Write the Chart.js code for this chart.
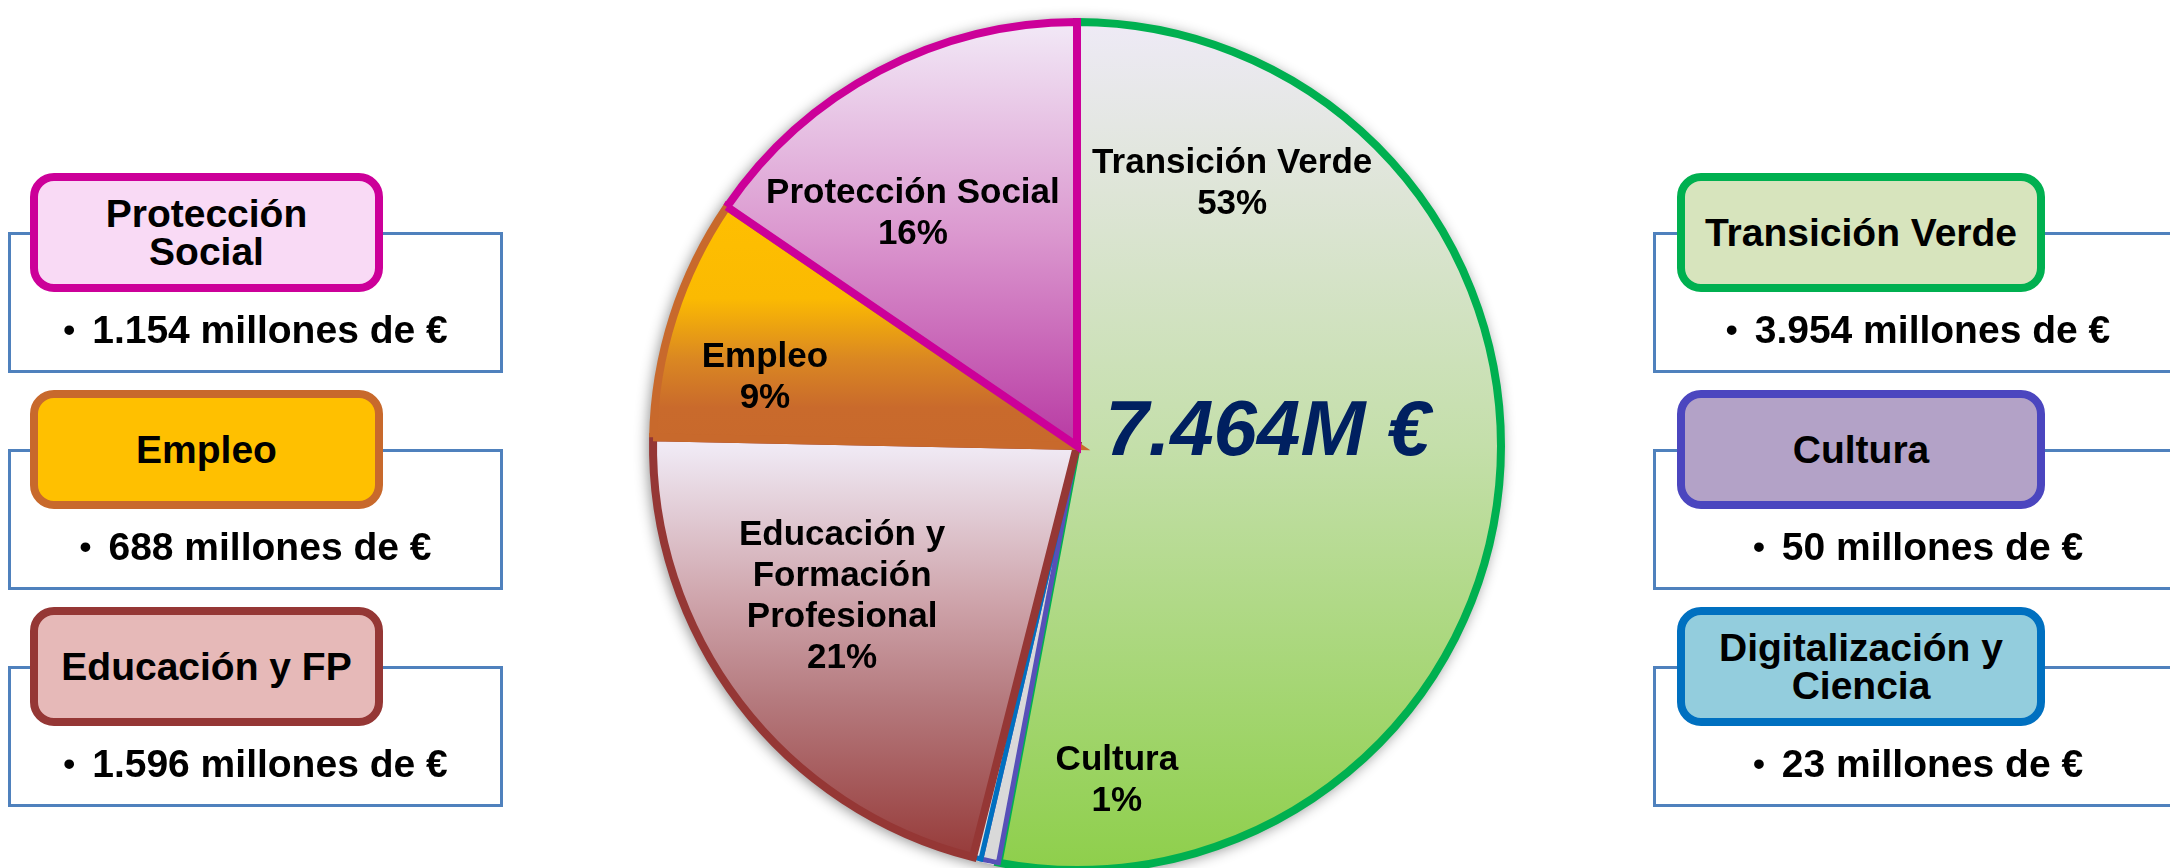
<!DOCTYPE html>
<html lang="es">
<head>
<meta charset="utf-8">
<title>Reparto por áreas</title>
<script src="https://cdn.jsdelivr.net/npm/chart.js@4.4.1/dist/chart.umd.min.js"></script>
<style>
  html, body { margin: 0; padding: 0; background: #fff; width: 2170px; height: 868px; overflow: hidden; font-family: "Liberation Sans", Arial, sans-serif; }
  #pie { position: absolute; left: 0; top: 0; }
  .frame { position: absolute; box-sizing: border-box; border: 3px solid #4F81BD; height: 141px; }
  .tag { position: absolute; box-sizing: border-box; height: 119px; border: 8px solid; border-radius: 24px;
         display: flex; align-items: center; justify-content: center; text-align: center;
         font-weight: bold; font-size: 39px; line-height: 38px; color: #000; white-space: pre-line; }
  .amount { position: absolute; display: flex; align-items: center; justify-content: center;
            font-weight: bold; font-size: 39px; color: #000; white-space: nowrap; }
  .amount .dot { margin-right: 17px; font-size: 34px; }
</style>
</head>
<body>
<canvas id="pie" width="2170" height="868"></canvas>
<div id="boxes"></div>
<script>
// data (millones de euros)
const categories = ['Transición Verde', 'Cultura', 'Digitalización y Ciencia', 'Educación y Formación Profesional', 'Empleo', 'Protección Social'];
const sliceValues = [3954, 50, 23, 1596, 688, 1154];
const slicePercents = ['53%', '1%', '', '21%', '9%', '16%'];
const pieLabels = ['Transición Verde', 'Cultura', '', 'Educación y\nFormación\nProfesional', 'Empleo', 'Protección Social'];
const boxTitles = ['Transición Verde', 'Cultura', 'Digitalización y\nCiencia', 'Educación y FP', 'Empleo', 'Protección\nSocial'];
const totalLabel = '7.464M €';

// styling
const borderColors = ['#00B050', '#5750B8', '#0070C0', '#953735', '#C8692C', '#CC0099'];
const boxFills = ['#D7E4BD', '#B3A2C7', '#93CDDD', '#E6B9B8', '#FFC000', '#F9DAF5'];
const boxBorders = ['#00B050', '#4B46BF', '#0070C0', '#953735', '#C8692C', '#CC0099'];
const flatFills = ['#C4DFAA', '#D9D9D9', '#E4E4E4', '#C89AA1', '#FFC000', '#D890CC'];
const gradientSpecs = [
  { from: -1, to: 1, stops: [[0, '#EEEAF6'], [0.2, '#DEE5D7'], [0.5, '#C4DFAA'], [1, '#8ECF4B']] },
  { from: -1, to: 1, stops: [[0, '#D9D9D9'], [1, '#D9D9D9']] },
  { from: -1, to: 1, stops: [[0, '#E4E4E4'], [1, '#E4E4E4']] },
  { from: 0, to: 1, stops: [[0, '#F0EAF5'], [0.36, '#CFA5AC'], [0.6, '#B57A7E'], [1, '#943634']] },
  { from: -0.6, to: 0, stops: [[0, '#FFC000'], [0.42, '#FBBA02'], [0.66, '#DA8722'], [0.85, '#C96A2C'], [1, '#C8692C']] },
  { from: -1, to: 0, stops: [[0, '#F2E9F7'], [0.5, '#DB98CF'], [1, '#B83AA3']] }
];
const PIE_RADIUS = 424;

function fmtMillions(v) {
  return String(v).replace(/\B(?=(\d{3})+(?!\d))/g, '.');
}

function sliceFill(context) {
  const chart = context.chart;
  const area = chart.chartArea;
  const i = context.dataIndex;
  if (!area) return flatFills[i];
  const cy = (area.top + area.bottom) / 2;
  const g = gradientSpecs[i];
  const grad = chart.ctx.createLinearGradient(0, cy + g.from * PIE_RADIUS, 0, cy + g.to * PIE_RADIUS);
  g.stops.forEach(([p, c]) => grad.addColorStop(p, c));
  return grad;
}

// soft shadow under the whole pie
const pieShadow = {
  id: 'pieShadow',
  beforeDatasetsDraw(chart) {
    const arc = chart.getDatasetMeta(0).data[0];
    if (!arc) return;
    const ctx = chart.ctx;
    ctx.save();
    ctx.beginPath();
    ctx.arc(arc.x, arc.y, arc.outerRadius + 3, 0, Math.PI * 2);
    ctx.shadowColor = 'rgba(0,0,0,0.45)';
    ctx.shadowBlur = 14;
    ctx.shadowOffsetX = -2;
    ctx.shadowOffsetY = 2;
    ctx.fillStyle = '#fff';
    ctx.fill();
    ctx.restore();
  }
};

// labels inside the slices and the total
const pieText = {
  id: 'pieText',
  afterDatasetsDraw(chart, args, opts) {
    const arc = chart.getDatasetMeta(0).data[0];
    if (!arc) return;
    const ctx = chart.ctx;
    const cx = arc.x, cy = arc.y, r = arc.outerRadius;
    ctx.save();
    ctx.textAlign = 'center';
    ctx.textBaseline = 'middle';
    ctx.fillStyle = '#000';
    ctx.font = 'bold 35px "Liberation Sans", Arial, sans-serif';
    pieLabels.forEach((lbl, i) => {
      if (!lbl) return;
      const lines = lbl.split('\n').concat(slicePercents[i]);
      const [fx, fy] = opts.anchors[i];
      const x = cx + fx * r, y = cy + fy * r;
      lines.forEach((ln, k) => ctx.fillText(ln, x, y + (k - (lines.length - 1) / 2) * opts.lineHeight));
    });
    ctx.font = 'italic bold 78px "Liberation Sans", Arial, sans-serif';
    ctx.fillStyle = '#002060';
    ctx.textBaseline = 'alphabetic';
    ctx.fillText(totalLabel, cx + opts.total[0] * r, cy + opts.total[1] * r);
    ctx.restore();
  }
};

new Chart(document.getElementById('pie').getContext('2d'), {
  type: 'pie',
  data: {
    labels: categories,
    datasets: [{
      data: sliceValues,
      backgroundColor: sliceFill,
      borderColor: borderColors,
      borderWidth: [8, 5, 5, 8, 8, 8],
      borderJoinStyle: 'miter',
      radius: PIE_RADIUS,
      clip: false
    }]
  },
  options: {
    responsive: false,
    animation: false,
    events: [],
    layout: { padding: { left: 0, right: 16, top: 24, bottom: 0 } },
    plugins: {
      legend: { display: false },
      tooltip: { enabled: false },
      pieText: {
        lineHeight: 41,
        anchors: [[0.366, -0.618], [0.094, 0.79], null, [-0.554, 0.355], [-0.736, -0.16], [-0.387, -0.547]],
        total: [0.45, 0.021]
      }
    }
  },
  plugins: [pieShadow, pieText]
});

// side boxes
const columns = [
  { order: [5, 4, 3], frameLeft: 8, frameWidth: 495, tagLeft: 30, tagWidth: 353 },
  { order: [0, 1, 2], frameLeft: 1653, frameWidth: 530, tagLeft: 1677, tagWidth: 368 }
];
const holder = document.getElementById('boxes');
columns.forEach(col => {
  col.order.forEach((idx, row) => {
    const tagTop = 173 + row * 217;
    const frameTop = tagTop + 59;
    const frame = document.createElement('div');
    frame.className = 'frame';
    frame.style.left = col.frameLeft + 'px';
    frame.style.top = frameTop + 'px';
    frame.style.width = col.frameWidth + 'px';
    holder.appendChild(frame);

    const tag = document.createElement('div');
    tag.className = 'tag';
    tag.style.left = col.tagLeft + 'px';
    tag.style.top = tagTop + 'px';
    tag.style.width = col.tagWidth + 'px';
    tag.style.background = boxFills[idx];
    tag.style.borderColor = boxBorders[idx];
    tag.textContent = boxTitles[idx];
    holder.appendChild(tag);

    const amount = document.createElement('div');
    amount.className = 'amount';
    amount.style.left = col.frameLeft + 'px';
    amount.style.width = col.frameWidth + 'px';
    amount.style.top = (tagTop + 119) + 'px';
    amount.style.height = (frameTop + 141 - tagTop - 119 - 6) + 'px';
    amount.innerHTML = '<span class="dot">•</span>' + fmtMillions(sliceValues[idx]) + ' millones de €';
    holder.appendChild(amount);
  });
});
</script>
</body>
</html>
